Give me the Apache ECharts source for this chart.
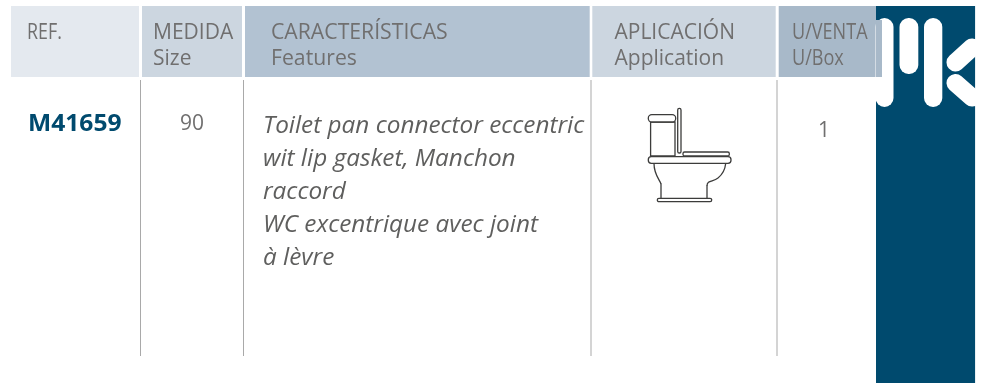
<!DOCTYPE html>
<html>
<head>
<meta charset="utf-8">
<title>M41659</title>
<style>
  html, body { margin: 0; padding: 0; background: #fff; }
  #chart { width: 984px; height: 383px; }
</style>
<script src="https://cdn.jsdelivr.net/npm/echarts@6/dist/echarts.min.js"></script>
</head>
<body>
<div id="chart"></div>
<script>
const headerTop = ['REF.', 'MEDIDA', 'CARACTERÍSTICAS', 'APLICACIÓN', 'U/VENTA']
const headerBottom = ['', 'Size', 'Features', 'Application', 'U/Box']
const reference = 'M41659'
const size = '90'
const unitsPerBox = '1'
const features = [
  'Toilet pan connector eccentric',
  'wit lip gasket, Manchon',
  'raccord',
  'WC excentrique avec joint',
  'à lèvre',
]

const FONT = '"Open Sans", sans-serif'
const GREY = '#706f6f'
const NAVY = '#004a6e'
const INK = '#3c3c3b'
// text is placed from the top of its box, this gets us back to the baseline
const ASCENT = 0.77

// header cells: x0, x1, fill, text x, text squeeze
const cols = [
  { x0: 11, x1: 139, fill: '#e4e9ef', tx: 27, sq: 0.85 },
  { x0: 142, x1: 242, fill: '#ccd6e0', tx: 153, sq: 1 },
  { x0: 245, x1: 589.7, fill: '#b2c2d2', tx: 271, sq: 1.01 },
  { x0: 592.3, x1: 775.7, fill: '#ccd6e0', tx: 614.5, sq: 1 },
  { x0: 778.7, x1: 876, fill: '#a8b9c9', tx: 792, sq: 0.86 },
]
const dividers = [140.5, 243.5, 591, 777]

const text = (str, x, y, fontSize, opts = {}) => ({
  type: 'text',
  x,
  y: y - fontSize * ASCENT,
  scaleX: opts.sq || 1,
  style: {
    text: str,
    x: 0,
    y: 0,
    fill: opts.fill || GREY,
    font: `${opts.style || 'normal'} ${opts.weight || 400} ${fontSize}px ${FONT}`,
    textAlign: opts.align || 'left',
  },
})

const rect = (x0, y0, x1, y1, fill, r = 0) => ({
  type: 'rect',
  shape: { x: x0, y: y0, width: x1 - x0, height: y1 - y0, r },
  style: { fill },
})

const line = (x0, y0, x1, y1, stroke, lineWidth, lineCap = 'round') => ({
  type: 'line',
  shape: { x1: x0, y1: y0, x2: x1, y2: y1 },
  style: { stroke, lineWidth, lineCap },
})

const outline = (x0, y0, x1, y1, r) => ({
  type: 'rect',
  shape: { x: x0, y: y0, width: x1 - x0, height: y1 - y0, r },
  style: { fill: '#fff', stroke: INK, lineWidth: 1.3 },
})

const curve = (x1, y1, cpx1, cpy1, cpx2, cpy2, x2, y2) => ({
  type: 'bezierCurve',
  shape: { x1, y1, cpx1, cpy1, cpx2, cpy2, x2, y2 },
  style: { fill: 'none', stroke: INK, lineWidth: 1.3 },
})

const elements = []

// header and logo panel
cols.forEach((c) => elements.push(rect(c.x0, 6, c.x1, 77, c.fill)))
elements.push(rect(876, 6, 975.3, 383, NAVY))

// logo
elements.push(rect(875.5, 18, 893.5, 107, '#fff', 9))
elements.push(rect(899.5, 18, 918.3, 74, '#fff', 9))
elements.push(rect(924, 18, 942.3, 107, '#fff', 9))
elements.push(line(955.5, 62.5, 972, 47.5, '#fff', 18))
elements.push(line(955.5, 83, 972, 97.5, '#fff', 18))
elements.push(rect(975.3, 0, 984, 383, '#fff'))

// last header cell runs over the first logo bar
elements.push(rect(876, 20, 882, 77, cols[4].fill))

// column dividers
dividers.forEach((x) => elements.push(line(x, 80, x, 356, '#a9a9a9', 1, 'butt')))

// header labels
cols.forEach((c, i) => {
  elements.push(text(headerTop[i], c.tx, 39, 21, { sq: c.sq }))
  if (headerBottom[i]) elements.push(text(headerBottom[i], c.tx, 65, 21, { sq: c.sq }))
})

// row
elements.push(text(reference, 28, 130.5, 23, { fill: NAVY, weight: 700, sq: 1.07 }))
elements.push(text(size, 192, 130, 21, { align: 'center' }))
elements.push(text(unitsPerBox, 824, 137, 21, { align: 'center' }))
features.forEach((s, i) => {
  elements.push(text(s, 263, 133 + i * 33, 23.5, { style: 'italic', fill: '#5f5f5e', sq: 1.035 }))
})

// toilet icon
elements.push(outline(650.6, 122, 675, 156, 0))
elements.push(outline(648.3, 114.7, 675.7, 122, 3.5))
elements.push(outline(677.7, 108.3, 681, 153, 1.6))
elements.push(outline(683, 152, 729.3, 156, 1.5))
elements.push(curve(654, 163.5, 654, 175, 660, 180, 661, 184))
elements.push(line(661, 184, 661, 198.5, INK, 1.3))
elements.push(line(707, 198.5, 707, 186, INK, 1.3))
elements.push(curve(707, 186, 707, 180, 713, 182, 718, 178))
elements.push(curve(718, 178, 723, 174, 725, 170, 725.7, 163.5))
elements.push(outline(648.3, 156.7, 731, 163.3, 3))
elements.push(outline(657.3, 198.3, 711.7, 201.7, 1.6))

const chart = echarts.init(document.getElementById('chart'))
chart.setOption({
  backgroundColor: '#fff',
  animation: false,
  graphic: { elements },
})
</script>
</body>
</html>
